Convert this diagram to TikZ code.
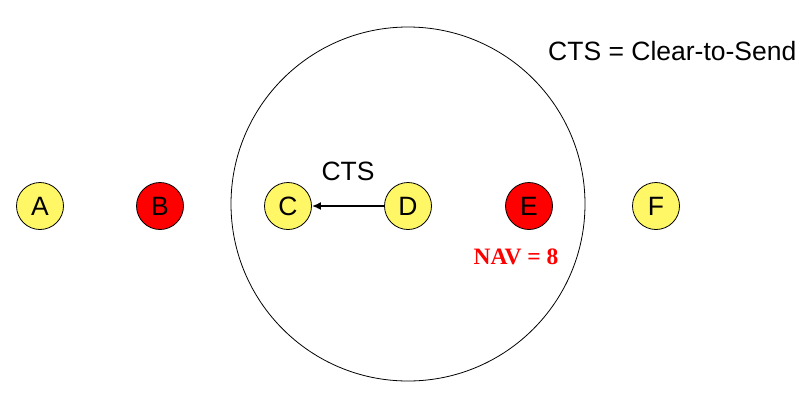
\documentclass[tikz,border=0pt]{standalone}
\usepackage{fontspec}
\setmainfont{Liberation Sans}
\newfontfamily\timesfont{Liberation Serif}
\usetikzlibrary{arrows.meta}
\begin{document}
\begin{tikzpicture}[x=1pt,y=-1pt,
  station/.style={circle,draw=black,line width=0.8pt,minimum size=47pt,inner sep=0pt,font=\fontsize{26.5}{26.5}\selectfont},
  yst/.style={station,fill=yellow!60!white},
  rst/.style={station,fill=red},
  lbl/.style={font=\fontsize{26.5}{26.5}\selectfont,inner sep=0pt}]
\useasboundingbox (0,0) rectangle (808,400);
\node[circle,draw=black,line width=0.8pt,minimum size=354pt,inner sep=0pt] (range) at (408,204) {};
\node[yst] (A) at (40,206) {A};
\node[rst] (B) at (160,206) {B};
\node[yst] (C) at (288,206) {C};
\node[yst] (D) at (408,206) {D};
\node[rst] (E) at (529,206) {E};
\node[yst] (F) at (656,206) {F};
\draw[-{Latex[length=9pt,width=8pt]},line width=2pt] (D) -- (C);
\node[lbl] (cts) at (348,171) {CTS};
\node[lbl,anchor=west] (legend) at (548,51) {CTS = Clear-to-Send};
\node[inner sep=0pt,text=red,font=\timesfont\bfseries\fontsize{23.5}{23.5}\selectfont] (nav) at (516,257) {NAV = 8};
\end{tikzpicture}
\end{document}
